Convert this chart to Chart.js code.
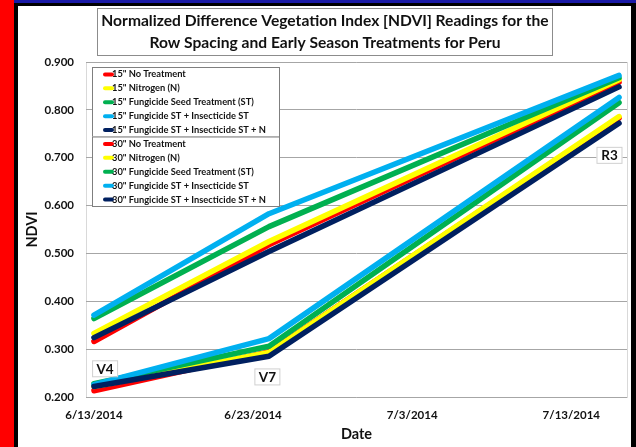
<!DOCTYPE html>
<html>
<head>
<meta charset="utf-8">
<script src="https://cdn.jsdelivr.net/npm/chart.js@4.4.1/dist/chart.umd.min.js"></script>
<style>
  html, body { margin: 0; padding: 0; background: #000; }
  #ndviChart { display: block; }
</style>
</head>
<body>
<canvas id="ndviChart" width="636" height="447"></canvas>
<script>
// days since 6/13/2014 for each reading
const readingDays = [0, 11, 33];
const tickDays = [0, 10, 20, 30];
const tickLabels = ["6/13/2014", "6/23/2014", "7/3/2014", "7/13/2014"];
const titleLines = [
  "Normalized Difference Vegetation Index [NDVI] Readings for the",
  "Row Spacing and Early Season Treatments for Peru",
];

const seriesLabels = [
  '15" No Treatment',
  '15" Nitrogen (N)',
  '15" Fungicide Seed Treatment (ST)',
  '15" Fungicide ST + Insecticide ST',
  '15" Fungicide ST + Insecticide ST + N',
  '30" No Treatment',
  '30" Nitrogen (N)',
  '30" Fungicide Seed Treatment (ST)',
  '30" Fungicide ST + Insecticide ST',
  '30" Fungicide ST + Insecticide ST + N',
];
const seriesColors = ["#ff0000", "#ffff00", "#00b050", "#00b0f0", "#002060"];

// 15" rows
const r15NoTrt = [0.316, 0.518, 0.858];
const r15N = [0.333, 0.525, 0.863];
const r15FungST = [0.364, 0.556, 0.867];
const r15FungInsST = [0.371, 0.583, 0.872];
const r15FungInsSTN = [0.324, 0.504, 0.848];
// 30" rows
const r30NoTrt = [0.213, 0.294, 0.783];
const r30N = [0.222, 0.293, 0.786];
const r30FungST = [0.228, 0.306, 0.815];
const r30FungInsST = [0.226, 0.322, 0.826];
const r30FungInsSTN = [0.222, 0.285, 0.772];

const allSeries = [
  r15NoTrt, r15N, r15FungST, r15FungInsST, r15FungInsSTN,
  r30NoTrt, r30N, r30FungST, r30FungInsST, r30FungInsSTN,
];

// growth stage labels
const stageText = ["V4", "V7", "R3"];
const stageDay = [0.7, 10.9, 32.4];
const stageNdvi = [0.260, 0.243, 0.706];

const FONT = "Lato, 'Open Sans', sans-serif";

const datasets = allSeries.map((vals, i) => ({
  label: seriesLabels[i],
  data: readingDays.map((d, j) => ({ x: d, y: vals[j] })),
  borderColor: seriesColors[i % 5],
  backgroundColor: seriesColors[i % 5],
  borderWidth: 5.5,
  pointRadius: 0,
  tension: 0,
  borderCapStyle: "round",
  borderJoinStyle: "round",
  order: 10 - i,
}));

// frame around the white panel
const framePlugin = {
  id: "frame",
  beforeDraw(chart) {
    const ctx = chart.ctx;
    ctx.save();
    ctx.fillStyle = "#000";
    ctx.fillRect(0, 0, 636, 447);
    ctx.fillStyle = "#1a1aa6";
    ctx.fillRect(0, 0, 636, 3);
    ctx.fillStyle = "#ff0000";
    ctx.fillRect(0, 0, 14, 447);
    ctx.fillStyle = "#fff";
    ctx.fillRect(18, 6, 613, 441);
    const a = chart.chartArea;
    ctx.strokeStyle = "#d9d9d9";
    ctx.lineWidth = 1;
    ctx.strokeRect(a.left + 0.5, a.top + 0.5, a.right - a.left, a.bottom - a.top);
    ctx.restore();
  },
};

// title box, legend boxes and stage labels
const overlayPlugin = {
  id: "overlay",
  afterDatasetsDraw(chart) {
    const ctx = chart.ctx;
    const xs = chart.scales.x, ys = chart.scales.y;
    ctx.save();

    // title
    ctx.fillStyle = "#fff";
    ctx.fillRect(97, 8, 455, 47);
    ctx.strokeStyle = "#8c8c8c";
    ctx.lineWidth = 1;
    ctx.strokeRect(97.5, 8.5, 455, 47);
    ctx.fillStyle = "#111";
    ctx.font = "bold 15.6px " + FONT;
    ctx.textAlign = "center";
    ctx.textBaseline = "middle";
    titleLines.forEach((t, i) => ctx.fillText(t, 325, 21 + i * 22));

    // legend, two boxes of five
    const lx = 92, ly = 67, rowH = 13.9, boxW = 187;
    ctx.font = "bold 9.3px " + FONT;
    ctx.textAlign = "left";
    for (let b = 0; b < 2; b++) {
      const top = ly + b * 5 * rowH;
      ctx.fillStyle = "#fff";
      ctx.fillRect(lx, top, boxW, 5 * rowH);
      ctx.strokeStyle = "#7f7f7f";
      ctx.strokeRect(lx + 0.5, top + 0.5, boxW, 5 * rowH);
      for (let r = 0; r < 5; r++) {
        const ds = chart.data.datasets[b * 5 + r];
        const cy = top + rowH * (r + 0.5) + 0.5;
        ctx.strokeStyle = ds.borderColor;
        ctx.lineWidth = 4;
        ctx.lineCap = "round";
        ctx.beginPath();
        ctx.moveTo(lx + 13, cy);
        ctx.lineTo(lx + 20, cy);
        ctx.stroke();
        ctx.lineWidth = 1;
        ctx.fillStyle = "#111";
        ctx.fillText(ds.label, lx + 20, cy);
      }
    }

    // stage labels
    ctx.font = "bold 13.5px " + FONT;
    ctx.textAlign = "center";
    stageText.forEach((t, i) => {
      const cx = xs.getPixelForValue(stageDay[i]);
      const cy = ys.getPixelForValue(stageNdvi[i]);
      ctx.fillStyle = "#fff";
      ctx.fillRect(cx - 13, cy - 8, 26, 16);
      ctx.strokeStyle = "#d0d0d0";
      ctx.lineWidth = 1;
      ctx.strokeRect(cx - 12.5, cy - 7.5, 25, 16);
      ctx.fillStyle = "#111";
      ctx.fillText(t, cx, cy + 1);
    });
    ctx.restore();
  },
};

const ndviChart = new Chart(document.getElementById("ndviChart"), {
  type: "line",
  data: { datasets },
  options: {
    responsive: false,
    animation: false,
    layout: { padding: { left: 18, top: 62, right: 9, bottom: 0 } },
    plugins: {
      legend: { display: false },
      title: { display: false },
      tooltip: { enabled: false },
    },
    scales: {
      x: {
        type: "linear",
        min: -0.5,
        max: 33.5,
        afterBuildTicks: (s) => { s.ticks = tickDays.map((v) => ({ value: v })); },
        afterFit: (s) => { s.height = 50; },
        grid: { display: false },
        border: { display: false },
        ticks: {
          padding: 3,
          color: "#111",
          font: { family: FONT, size: 11.5, weight: "bold" },
          callback: (v) => tickLabels[tickDays.indexOf(v)],
          maxRotation: 0,
          autoSkip: false,
        },
        title: {
          display: true,
          text: "Date",
          color: "#111",
          font: { family: FONT, size: 14.5, weight: "bold" },
          padding: { top: 4, bottom: 4 },
        },
      },
      y: {
        min: 0.2,
        max: 0.9,
        afterFit: (s) => { s.width = 68; },
        grid: { color: "#a6a6a6", lineWidth: 1, drawTicks: false },
        border: { display: false },
        ticks: {
          stepSize: 0.1,
          padding: 12,
          color: "#111",
          font: { family: FONT, size: 11.5, weight: "bold" },
          callback: (v) => v.toFixed(3),
        },
        title: {
          display: true,
          text: "NDVI",
          color: "#111",
          font: { family: FONT, size: 14.5, weight: "bold" },
          padding: { top: 6, bottom: 4 },
        },
      },
    },
  },
  plugins: [framePlugin, overlayPlugin],
});
</script>
</body>
</html>
